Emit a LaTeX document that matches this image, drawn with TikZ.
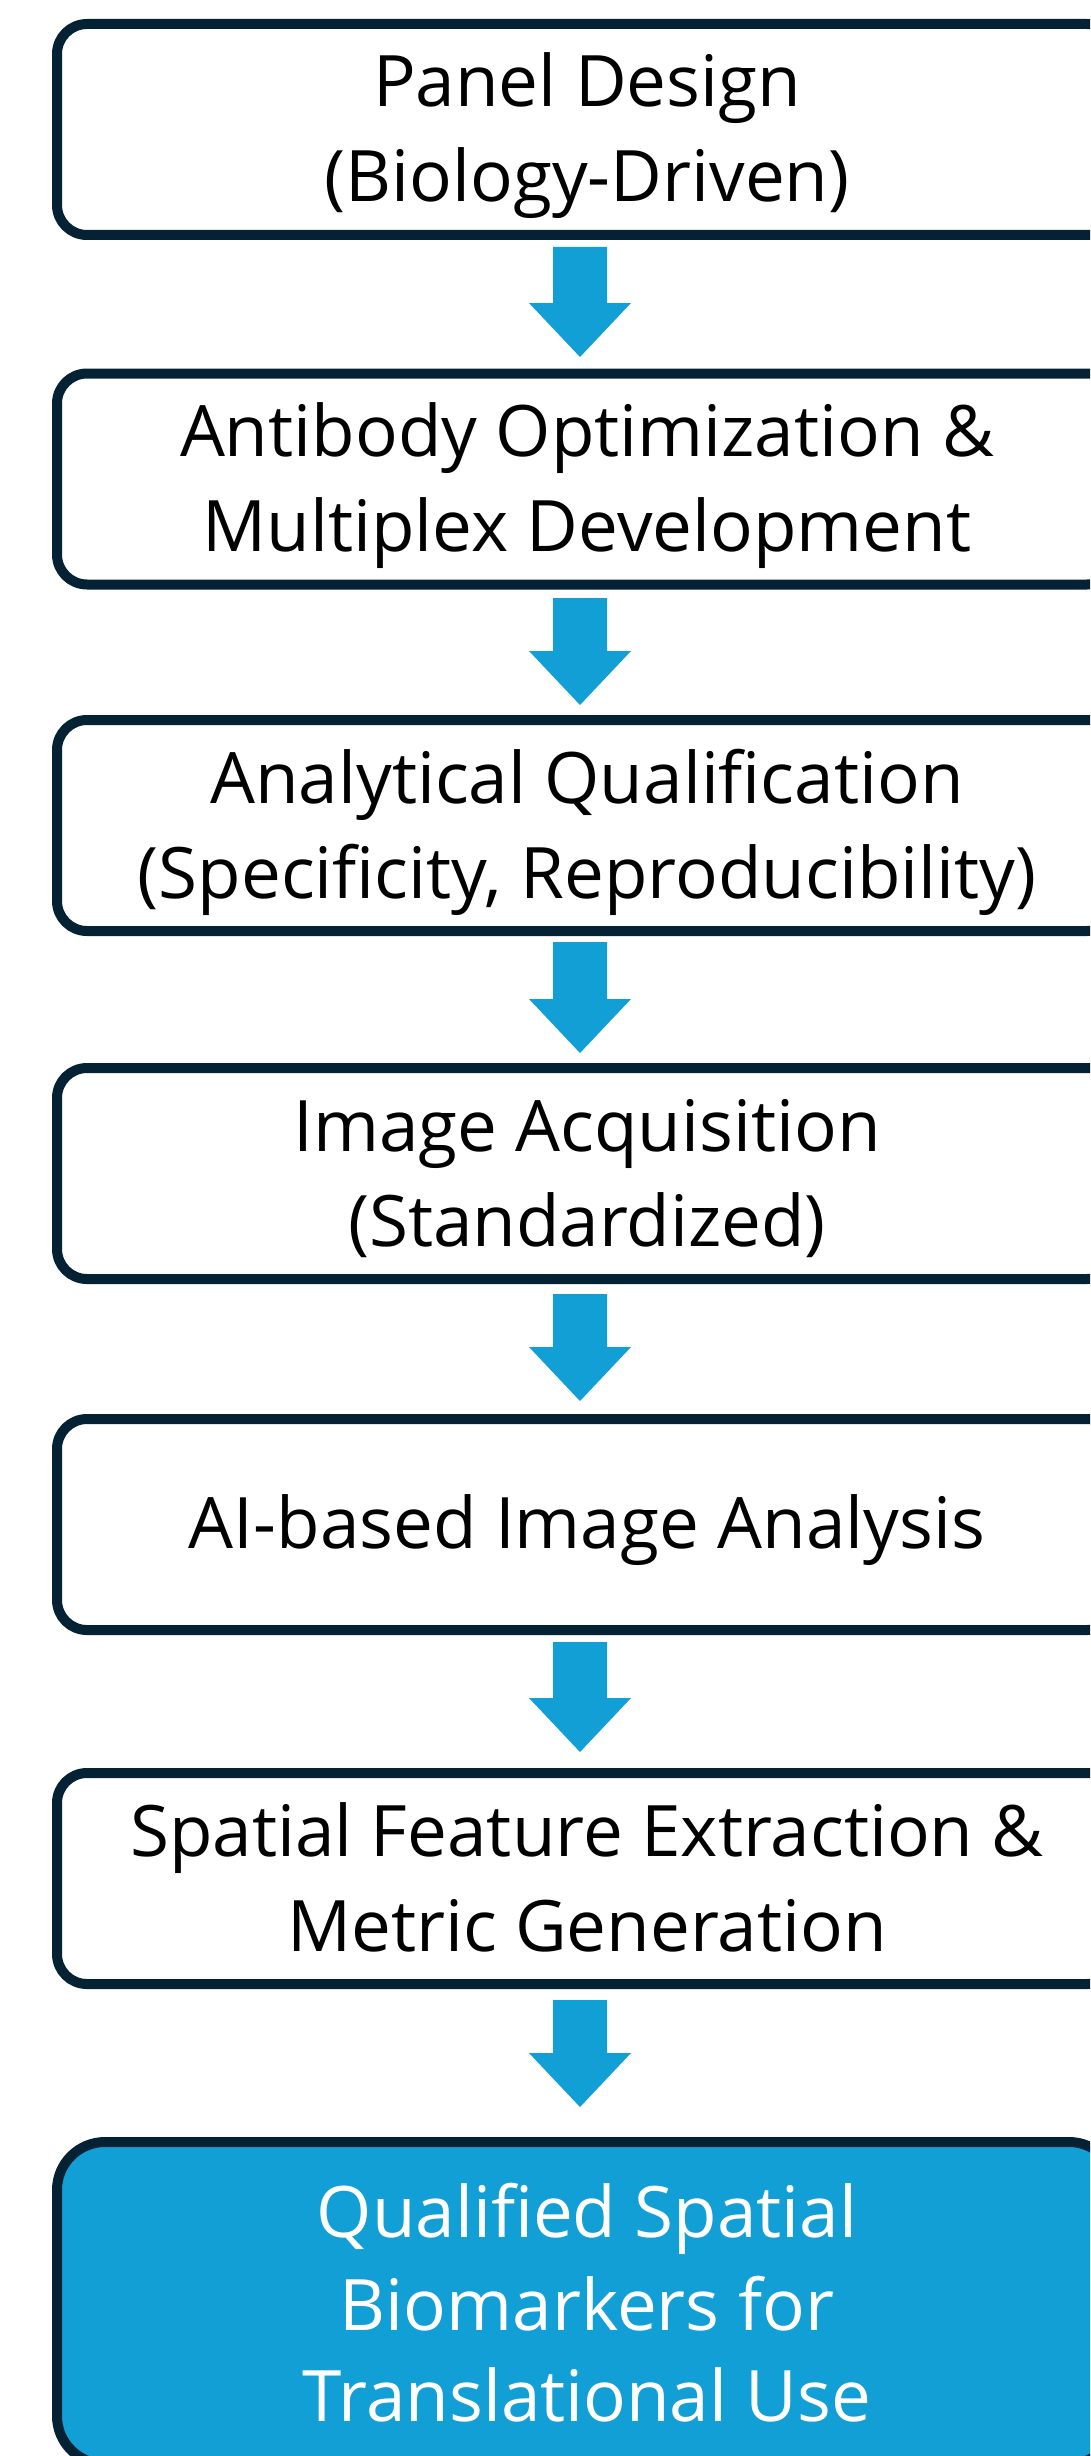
\documentclass[tikz,border=0pt]{standalone}
\usepackage{fontspec}
\setmainfont{Open Sans}
\definecolor{navy}{HTML}{042233}
\definecolor{flowblue}{HTML}{119FD6}
\tikzset{
  stagebox/.style={draw=navy, line width=10pt, rounded corners=30pt, fill=white,
    minimum width=1060pt, minimum height=211pt, inner sep=0pt},
  finalbox/.style={stagebox, fill=flowblue, rounded corners=48pt, minimum height=322pt},
  linetext/.style={anchor=base, font=\fontsize{71}{95}\selectfont, inner sep=0pt, text=black},
  whitetext/.style={linetext, text=white},
  flowarrow/.style={fill=flowblue}
}
\newcommand\flowdown[2]{\fill[flowarrow] (553,#1) -- (607,#1) -- (607,#2) -- (631,#2) -- (580,#2+54) -- (529,#2) -- (553,#2) -- cycle;}
\begin{document}
\begin{tikzpicture}[x=1pt,y=-1pt]
\useasboundingbox (0,0) rectangle (1090,2456);
\clip (0,0) rectangle (1090,2456);
\fill[white] (0,0) rectangle (1090,2456);
% boxes
\node[stagebox] (b1) at (587,129.5) {};
\node[stagebox] (b2) at (587,479) {};
\node[stagebox] (b3) at (587,825.5) {};
\node[stagebox] (b4) at (587,1173.5) {};
\node[stagebox] (b5) at (587,1524.5) {};
\node[stagebox] (b6) at (587,1878.5) {};
\node[finalbox] (b7) at (587,2303) {};
% texts
\node[linetext] (t1a) at (587,107) {Panel Design};
\node[linetext] (t1b) at (587,202) {(Biology-Driven)};
\node[linetext] (t2a) at (587,456.5) {Antibody Optimization \&};
\node[linetext] (t2b) at (587,551.5) {Multiplex Development};
\node[linetext] (t3a) at (587,803) {Analytical Qualification};
\node[linetext] (t3b) at (587,898) {(Specificity, Reproducibility)};
\node[linetext] (t4a) at (587,1151) {Image Acquisition};
\node[linetext] (t4b) at (587,1246) {(Standardized)};
\node[linetext] (t5a) at (587,1548) {AI-based Image Analysis};
\node[linetext] (t6a) at (587,1856) {Spatial Feature Extraction \&};
\node[linetext] (t6b) at (587,1951) {Metric Generation};
\node[whitetext] (t7a) at (587,2237) {Qualified Spatial};
\node[whitetext] (t7b) at (587,2330) {Biomarkers for};
\node[whitetext] (t7c) at (587,2421) {Translational Use};
% arrows
\flowdown{247}{303}
\flowdown{598}{651}
\flowdown{942}{999}
\flowdown{1294}{1347}
\flowdown{1642}{1698}
\flowdown{2000}{2053}
\end{tikzpicture}
\end{document}
